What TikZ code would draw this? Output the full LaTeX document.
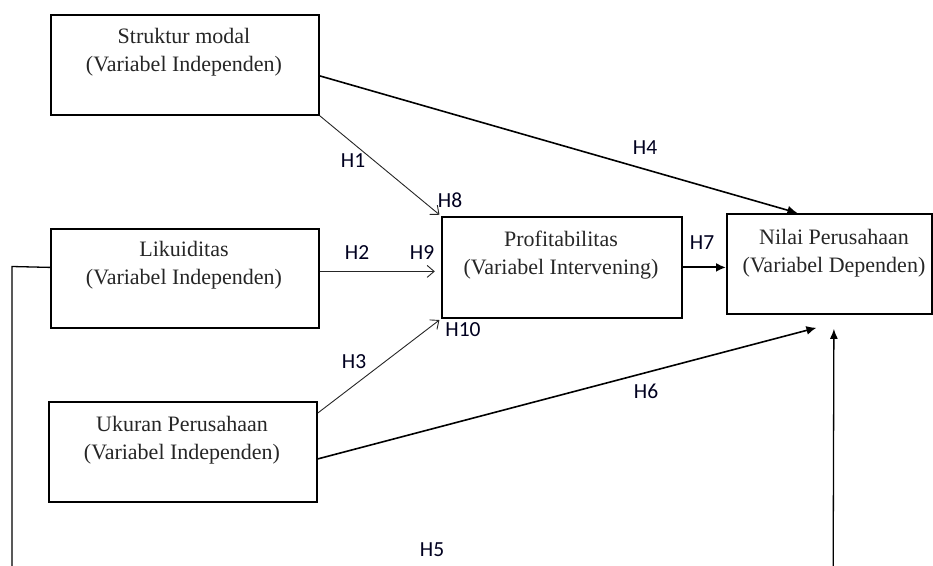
\documentclass[tikz,border=0pt]{standalone}
\usepackage{fontspec}
\setmainfont{Liberation Serif}
\newfontfamily\labfont{Carlito}
\usetikzlibrary{arrows.meta,calc}
\begin{document}
\begin{tikzpicture}[x=1pt,y=-1pt,
  box/.style={draw=black, line width=1.8pt, inner sep=0pt, anchor=north west, minimum height=100pt},
  txt/.style={font=\fontsize{22}{28}\selectfont, align=center, text=black!85},
  lab/.style={font=\labfont\fontsize{21.5}{24}\selectfont, text=black!80!blue!60!black},
  thin/.style={line width=0.9pt, draw=black!85, -{Straight Barb[length=7pt,width=12pt,line width=0.9pt]}},
  bold/.style={line width=1.6pt, draw=black, -{Latex[length=10pt,width=9pt]}},
]
\useasboundingbox (0,0) rectangle (933,565);
\clip (0,0) rectangle (933,565);

% boxes
\node[box, minimum width=268pt] (s1) at (50,14) {};
\node[box, minimum width=268pt, minimum height=99pt] (s2) at (50,228) {};
\node[box, minimum width=268pt] (s3) at (48,401) {};
\node[box, minimum width=240pt, minimum height=101pt] (p) at (441,216) {};
\node[box, minimum width=205pt] (n) at (726,213) {};

% texts
\node[txt] (s1t) at (184,52) {Struktur modal\\(Variabel Independen)};
\node[txt] (s2t) at (184,265) {Likuiditas\\(Variabel Independen)};
\node[txt] (s3t) at (182,440) {Ukuran Perusahaan\\(Variabel Independen)};
\node[txt] (pt) at (561,255) {Profitabilitas\\(Variabel Intervening)};
\node[txt] (nt) at (834,253) {Nilai Perusahaan\\(Variabel Dependen)};

% connectors
\draw[thin, shorten >=2pt] (s1.south east) -- (p.north west);
\draw[thin] ($(s2.east)+(0,-7)$) -- ($(s2.east)+(115,-7)$);
\draw[thin, shorten >=2pt] ($(s3.north east)+(0,12)$) -- (p.south west);
\draw[bold] ($(s1.east)+(0,11)$) -- ($(n.north)+(-32,0)$);
\draw[bold] ($(s3.east)+(0,7)$) -- ($(n.south)+(-13,13)$);
\draw[bold, line width=2pt] (p.east) -- (p.east -| n.west);
\draw[line width=1.3pt, -{Latex[length=10pt,width=8pt]}] ($(s2.west)+(0,-11)$) -- (12,266.5) -- (12,620) -- (833,620) -- ($(n.south)+(4.5,14)$);

% labels
\node[lab] (h1) at (353,161) {H1};
\node[lab] (h2) at (357,253) {H2};
\node[lab] (h3) at (354,362) {H3};
\node[lab] (h4) at (645,148) {H4};
\node[lab] (h5) at (432,550) {H5};
\node[lab] (h6) at (646,391) {H6};
\node[lab] (h7) at (702,243) {H7};
\node[lab] (h8) at (450,200) {H8};
\node[lab] (h9) at (422,253) {H9};
\node[lab] (h10) at (463,330) {H10};
\end{tikzpicture}
\end{document}
